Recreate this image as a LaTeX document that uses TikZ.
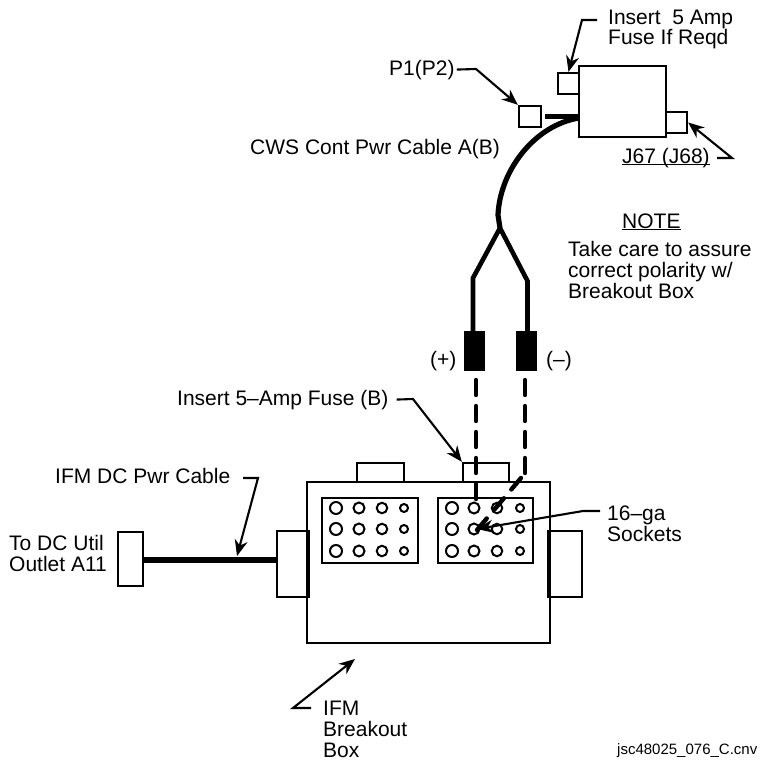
\documentclass[tikz,border=0pt]{standalone}
\usepackage{fontspec}
\setmainfont{Liberation Sans}
\usetikzlibrary{arrows.meta,positioning}
\newcommand{\ulbl}[1]{\underline{\smash{#1}}}
\tikzset{
  every picture/.style={line join=miter, x=1pt, y=-1pt},
  every node/.style={font=\fontsize{21}{21}\selectfont, inner sep=0pt},
  % boxes
  outline/.style={draw, line width=2.3pt, minimum width=#1},
  blackboot/.style={fill=black, minimum width=21pt, minimum height=40pt},
  hole/.style={draw, circle, line width=2pt, minimum size=#1},
  % wires
  wire/.style={line width=4.6pt},
  cable/.style={line width=5.2pt},
  dashwire/.style={line width=4.4pt, line cap=round, dash pattern=on 15pt off 11pt},
  leader/.style={line width=2.1pt, -{Stealth[length=16pt,width=13pt]}},
  % labels
  lbl/.style={anchor=base west},
  mlbl/.style={anchor=north west, align=left},
}
\begin{document}
\begin{tikzpicture}
  \useasboundingbox (0,0) rectangle (760,764);
  % CWS end
  \node[outline=87pt, minimum height=71pt] (cwsbox) at (622.5,101.5) {};
  \node[outline=21pt, minimum height=21pt] (fuseport) at (568.5,83.5) {};
  \node[outline=21pt, minimum height=21pt] (jport) at (676.5,122.5) {};
  \node[outline=22pt, minimum height=21pt] (pplug) at (530,116.5) {};
  \coordinate (fork) at (500,228);
  \draw[cable] (pplug.east)++(3,0) -- (579,116.5);
  \draw[cable] (579,118) .. controls (535,125) and (500,170) .. (498,215) -- (fork);
  % polarity boots
  \node[blackboot] (plusboot) at (474.5,351) {};
  \node[blackboot] (minusboot) at (526.5,351) {};
  \draw[wire] (fork) -- (473,278) -- (473,331);
  \draw[wire] (fork) -- (527.5,281) -- (527.5,331);
  % breakout box
  \node[outline=243pt, minimum height=161pt] (ifmbox) at (428.5,562.5) {};
  \node[outline=47pt, minimum height=19pt] (tabl) at (380.5,472.5) {};
  \node[outline=46pt, minimum height=19pt] (tabr) at (486,472.5) {};
  \node[outline=96pt, minimum height=65pt] (panell) at (370,530.5) {};
  \node[outline=95pt, minimum height=65pt] (panelr) at (485.5,530.5) {};
  \node[outline=30pt, minimum height=66pt] (sidel) at (292,564) {};
  \node[outline=32pt, minimum height=66pt] (sider) at (566,564) {};
  \node[outline=25pt, minimum height=54pt] (utilplug) at (130.5,559) {};
  \draw[line width=3.2pt] (sidel.north east) -- (sidel.south east);
  \draw[line width=3.2pt] (sider.north west) -- (sider.south west);
  \draw[cable] (utilplug.east)++(0,1) -- (277,560);
  % sockets
  \foreach \y/\r in {508/a,529/b,551/c}
    \foreach \xl/\xr/\s/\c in {336/452/12/1,359/474/11/2,382/497/10.5/3,404/520/8/4} {
      \node[hole=\s pt] (sl\r\c) at (\xl,\y) {};
      \node[hole=\s pt] (sr\r\c) at (\xr,\y) {};
    }
  % leads into the sockets
  \draw[dashwire] (476,380) -- (476,500);
  \draw[dashwire] (525,380) -- (525,473);
  \draw[dashwire, dash pattern=on 15pt off 11.5pt] (521,478) -- (477,530);
  % labels
  \node[mlbl] (fuselbl) at (608,9.5) {Insert\ \ 5 Amp\\[-1pt]Fuse If Reqd};
  \node[lbl] (plbl) at (389,75) {P1(P2)};
  \node[lbl] (cwslbl) at (250,154) {CWS Cont Pwr Cable A(B)};
  \node[lbl] (jlbl) at (622,163) {\ulbl{J67 (J68)}};
  \node[lbl] (notelbl) at (622,228) {\ulbl{NOTE}};
  \node[mlbl] (takecare) at (568,241) {Take care to assure\\correct polarity w/\\Breakout Box};
  \node[lbl] (pluslbl) at (430,366) {(+)};
  \node[lbl] (minuslbl) at (546,366) {(--)};
  \node[lbl] (fusebLbl) at (177,405) {Insert 5--Amp Fuse (B)};
  \node[lbl] (dclbl) at (55,483) {IFM DC Pwr Cable};
  \node[mlbl] (utillbl) at (9,535) {To DC Util\\Outlet A11};
  \node[mlbl] (socklbl) at (607,506) {16--ga\\Sockets};
  \node[mlbl] (boxlbl) at (323,701) {IFM\\Breakout\\Box};
  \node[lbl, font=\fontsize{15}{15}\selectfont] (filelbl) at (617,754) {jsc48025\_076\_C.cnv};
  % leaders
  \draw[leader] (597,20) -- (582,20) -- (fuseport.north);
  \draw[leader] (plbl.east)++(2,0) -- (476,69) -- (pplug.north west);
  \draw[leader] (717,158) -- (732,158) -- (jport.east);
  \draw[leader] (fusebLbl.east)++(8,0) -- (413,399) -- (tabr.north west);
  \draw[leader] (243,478) -- (258,478) -- (237,556);
  \draw[leader] (600,511) -- (583,511) -- (477,529);
  \draw[leader] (311,708) -- (293,708) -- (355,659);
\end{tikzpicture}
\end{document}
